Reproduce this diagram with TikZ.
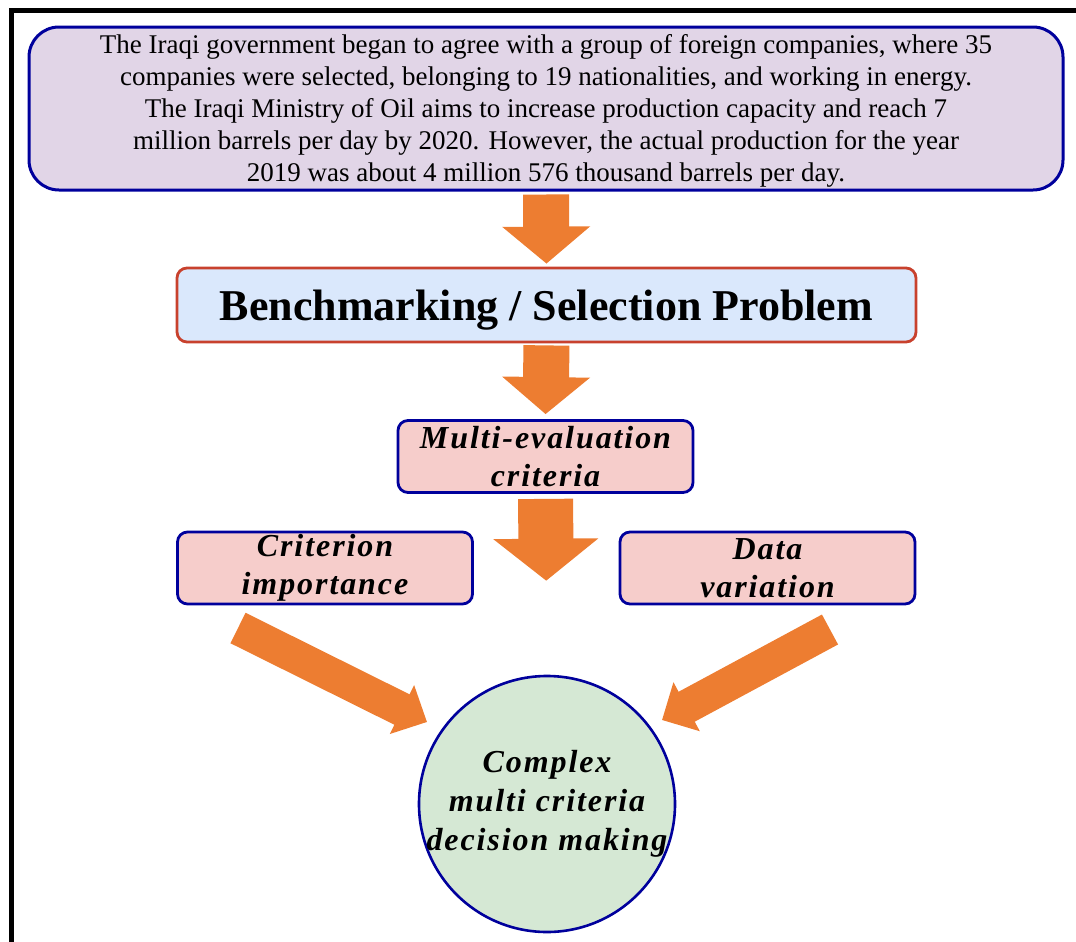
\documentclass[tikz,border=0pt]{standalone}
\usepackage{fontspec}
\setmainfont{Liberation Serif}
\usetikzlibrary{arrows.meta}

\definecolor{edgeblue}{HTML}{00009C}
\definecolor{edgered}{HTML}{C8412D}
\definecolor{lilacfill}{HTML}{E1D5E7}
\definecolor{skyfill}{HTML}{DAE8FC}
\definecolor{rosefill}{HTML}{F6CDCB}
\definecolor{mintfill}{HTML}{D5E8D4}
\definecolor{blockorange}{HTML}{ED7D31}

\newcommand{\spacedbi}{\bfseries\itshape\addfontfeature{LetterSpace=6}}

\begin{document}
\begin{tikzpicture}[x=0.5pt, y=-0.5pt,
    critbox/.style={draw=edgeblue, line width=1.4pt, fill=rosefill, rounded corners=5pt,
        minimum width=147.5pt, minimum height=36pt, inner sep=0pt, align=center,
        font=\fontsize{16}{19}\selectfont\spacedbi},
    downblock/.style={blockorange, line width=#1},
    tipblock/.style 2 args={-{Triangle[length=#1, width=#2]}}]
    \useasboundingbox (0,0) rectangle (1076,942);
    % frame
    \draw[line width=2.7pt] (11.5,942) -- (11.5,10.5) -- (1076,10.5);

    \node[draw=edgeblue, line width=1.5pt, fill=lilacfill, rounded corners=15pt,
        minimum width=517pt, minimum height=81.5pt, inner sep=0pt, align=center,
        font=\fontsize{13.5}{15.9}\selectfont] (info) at (546,108.5)
        {\rule{0pt}{12pt}The Iraqi government began to agree with a group of foreign companies, where 35\\
         companies were selected, belonging to 19 nationalities, and working in energy.\\
         The Iraqi Ministry of Oil aims to increase production capacity and reach 7\\
         million barrels per day by 2020. However, the actual production for the year\\
         2019 was about 4 million 576 thousand barrels per day.};
    \node[draw=edgered, line width=1.4pt, fill=skyfill, rounded corners=5pt,
        minimum width=369.5pt, minimum height=37pt, inner sep=0pt, text depth=0pt,
        font=\fontsize{22}{26}\selectfont\bfseries] (bench) at (546.5,305)
        {Benchmarking / Selection Problem};
    \node[critbox] (multi) at (545.5,456.5) {Multi-evaluation\\criteria};
    \node[critbox] (crit) at (325,568) {Criterion\\importance};
    \node[critbox] (data) at (767.5,568) {Data\\variation};
    \node[circle, draw=edgeblue, line width=1.3pt, fill=mintfill, minimum size=128pt,
        inner sep=-15pt, align=center, font=\fontsize{16}{19.5}\selectfont\spacedbi]
        (mcdm) at (547,804) {Complex\\multi criteria\\decision making};

    \coordinate (ltail) at (238,628);
    \coordinate (ltip) at (427,722);
    \coordinate (rtail) at (830,629.5);
    \coordinate (rtip) at (662,720);

    % block arrows
    \draw[downblock=23pt, tipblock={18.5pt}{43pt}, shorten <=1.5pt, shorten >=1.5pt]
        (info.south) -- (bench.north);
    \draw[downblock=23pt, tipblock={18.5pt}{43pt}, shorten <=1pt, shorten >=2.5pt]
        (bench.south) -- (multi.north);
    \draw[downblock=27.5pt, tipblock={21pt}{51.5pt}, shorten <=2.5pt, shorten >=47pt]
        (multi.south) -- (mcdm.north);
    \draw[downblock=17pt, tipblock={14pt}{26.5pt}] (ltail) -- (ltip);
    \draw[downblock=17pt, tipblock={14pt}{27pt}] (rtail) -- (rtip);
\end{tikzpicture}
\end{document}
